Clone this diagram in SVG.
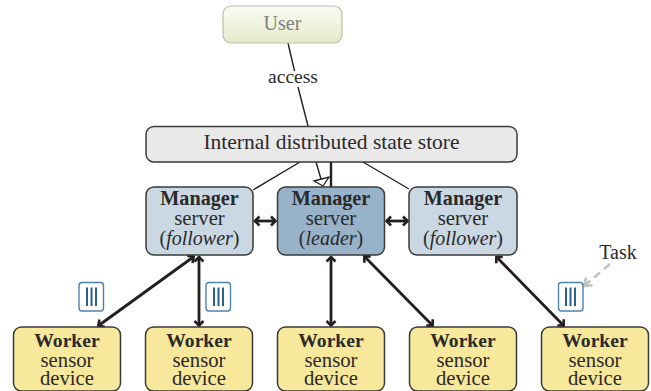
<svg xmlns="http://www.w3.org/2000/svg" width="651" height="391" viewBox="0 0 651 391">
<style>
text{font-family:"Liberation Serif","Times New Roman",serif;font-size:20.7px;fill:#2b2a29;text-anchor:middle}
.b{font-weight:bold;font-size:20.2px}
.w{font-weight:bold;font-size:19.6px}
.f{font-size:20px}
.i{font-style:italic}
.box{stroke:#3a3a3a;stroke-width:1.5}
.mgr{fill:#c9d8e3}
.lead{fill:#97b2c9}
.wrk{fill:#f7e89b}
.thin{stroke:#231f20;stroke-width:1.4;fill:none}
.dbl{stroke:#231f20;stroke-width:2.8;fill:none;marker-start:url(#ah);marker-end:url(#ah)}
.tb{fill:#fff;stroke:#4f81a8;stroke-width:1.4}
.tl{stroke:#2b5f8e;stroke-width:2}
</style>
<defs>
<linearGradient id="ug" x1="0" y1="0" x2="0" y2="1"><stop offset="0" stop-color="#fbfcf5"/><stop offset="1" stop-color="#e3ebc8"/></linearGradient>
<marker id="ah" markerUnits="userSpaceOnUse" markerWidth="12" markerHeight="12" refX="10.500" refY="6" orient="auto-start-reverse" viewBox="0 0 12 12"><path d="M5.500 1.500L10 6L5.500 10.500" fill="none" stroke="#231f20" stroke-width="2.600"/></marker>
<marker id="gr" markerUnits="userSpaceOnUse" markerWidth="12" markerHeight="12" refX="10" refY="6" orient="auto" viewBox="0 0 12 12"><path d="M3 1L10 6L3 11" fill="none" stroke="#c0c0c0" stroke-width="2.500"/></marker>
</defs>
<g id="connectors">
<path class="thin" d="M288 43L294.500 71M298 87L308 126"/>
<path class="thin" d="M300 162L253 190M363 162L409 189M316 162L321 179"/>
<path d="M314 181L329 177L323 186Z" fill="#fff" stroke="#231f20" stroke-width="1.300"/>
<path d="M331 162V187" stroke="#231f20" stroke-width="2.400"/>
<path class="dbl" d="M254.500 221H276"/>
<path class="dbl" d="M386 221H408"/>
<path class="dbl" d="M194 256.500L98 326"/>
<path class="dbl" d="M199 256.500V326"/>
<path class="dbl" d="M331 256.500V326"/>
<path class="dbl" d="M364 256L433 326"/>
<path class="dbl" d="M496 256.500L564 326"/>
<path d="M610 264L584 286" stroke="#c0c0c0" stroke-width="2.500" stroke-dasharray="8 5" fill="none" marker-end="url(#gr)"/>
</g>
<g id="user"><rect x="223" y="6" width="119" height="37" rx="8" fill="url(#ug)" stroke="#b9bfa8" stroke-width="1.200"/><text x="282.500" y="30" style="fill:#7f7f7f;font-size:20px">User</text></g>
<g id="access"><text x="293" y="83" style="font-size:19.5px">access</text></g>
<g id="store"><rect x="146" y="126.500" width="371" height="35.500" rx="8" fill="#e9e9ea" class="box"/><text x="331.500" y="149" style="font-size:21.500px">Internal distributed state store</text></g>
<g id="manager1"><rect x="146" y="187" width="107" height="68" rx="8" class="box mgr"/><text x="199.500" y="205" class="b">Manager</text><text x="199.500" y="225">server</text><text x="199.500" y="245" class="f">(<tspan class="i">follower</tspan>)</text></g>
<g id="manager2"><rect x="277.500" y="187" width="107" height="68" rx="8" class="box lead"/><text x="331" y="205" class="b">Manager</text><text x="331" y="225">server</text><text x="331" y="245" class="f">(<tspan class="i">leader</tspan>)</text></g>
<g id="manager3"><rect x="409" y="187" width="108" height="68" rx="8" class="box mgr"/><text x="463" y="205" class="b">Manager</text><text x="463" y="225">server</text><text x="463" y="245" class="f">(<tspan class="i">follower</tspan>)</text></g>
<g id="worker1"><rect x="13.500" y="327" width="107" height="64" rx="8" class="box wrk"/><text x="67" y="347" class="w">Worker</text><text x="67" y="367">sensor</text><text x="67" y="385">device</text></g>
<g id="worker2"><rect x="145.500" y="327" width="107" height="64" rx="8" class="box wrk"/><text x="199" y="347" class="w">Worker</text><text x="199" y="367">sensor</text><text x="199" y="385">device</text></g>
<g id="worker3"><rect x="277.500" y="327" width="107" height="64" rx="8" class="box wrk"/><text x="331" y="347" class="w">Worker</text><text x="331" y="367">sensor</text><text x="331" y="385">device</text></g>
<g id="worker4"><rect x="409.500" y="327" width="107" height="64" rx="8" class="box wrk"/><text x="463" y="347" class="w">Worker</text><text x="463" y="367">sensor</text><text x="463" y="385">device</text></g>
<g id="worker5"><rect x="541.500" y="327" width="107" height="64" rx="8" class="box wrk"/><text x="595" y="347" class="w">Worker</text><text x="595" y="367">sensor</text><text x="595" y="385">device</text></g>
<g id="task1"><rect x="79" y="282.500" width="24.500" height="28.500" rx="3" class="tb"/><path class="tl" d="M87 287.500V306M91.500 287.500V306M96 287.500V306"/></g>
<g id="task2"><rect x="206" y="282.500" width="24.500" height="28.500" rx="3" class="tb"/><path class="tl" d="M214 287.500V306M218.500 287.500V306M223 287.500V306"/></g>
<g id="task3"><rect x="558.500" y="282.500" width="24.500" height="28.500" rx="3" class="tb"/><path class="tl" d="M566 287.500V306M570.500 287.500V306M575 287.500V306"/></g>
<g id="task-label"><text x="618" y="259" style="font-size:20px">Task</text></g>
</svg>
